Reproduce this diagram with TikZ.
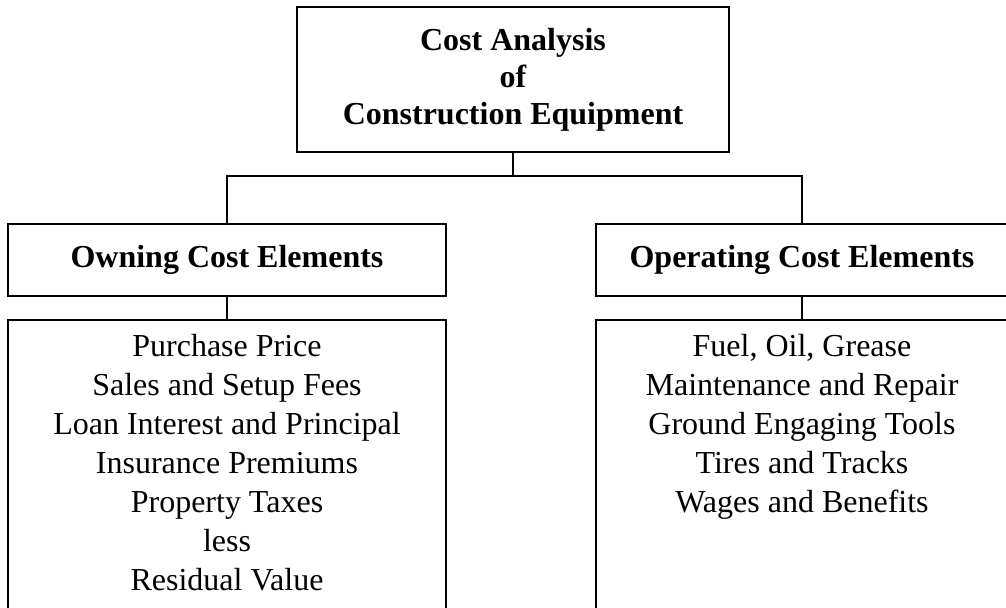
\documentclass[tikz,border=0pt]{standalone}
\usepackage{fontspec}
\setmainfont{Liberation Serif}
\usetikzlibrary{positioning}

\begin{document}
\begin{tikzpicture}[x=0.5pt, y=-0.5pt]

\tikzstyle{head}=[rectangle, draw, line width=1.3pt, inner sep=0pt, align=center, font=\fontsize{16}{18.4}\selectfont\bfseries]
\tikzstyle{list}=[rectangle, draw, line width=1.3pt, inner sep=0pt]
\tikzstyle{items}=[inner sep=0pt, align=center, anchor=north, font=\fontsize{16}{19.5}\selectfont]
\tikzstyle{link}=[line width=1.3pt]

\useasboundingbox (0,0) rectangle (1006,607);

\node (top) [head, minimum width=216pt, minimum height=72.5pt] at (513,79.5)
     {Cost Analysis\\ of\\ Construction Equipment};

\node (own) [head, minimum width=219pt, minimum height=36pt] at (227,260) {Owning Cost Elements};
\node (opr) [head, minimum width=206pt, minimum height=36pt] at (802,260) {Operating Cost Elements};

% list boxes run past the lower and right edge of the page
\node (ownlist) [list, minimum width=219pt, minimum height=146pt] at (227,466) {};
\node (oprlist) [list, minimum width=206pt, minimum height=146pt] at (802,466) {};

\node (owntext) [items] at (227,334)
     {Purchase Price\\ Sales and Setup Fees\\ Loan Interest and Principal\\ Insurance Premiums\\
      Property Taxes\\ less\\ Residual Value};
\node (oprtext) [items] at (802,334)
     {Fuel, Oil, Grease\\ Maintenance and Repair\\ Ground Engaging Tools\\ Tires and Tracks\\
      Wages and Benefits};

\coordinate (split) at (513,176);
\draw [link] (top.south) -- (split);
\draw [link] (own.north) |- (split) -| (opr.north);
\draw [link] (own.south) -- (ownlist.north);
\draw [link] (opr.south) -- (oprlist.north);

\end{tikzpicture}
\end{document}
